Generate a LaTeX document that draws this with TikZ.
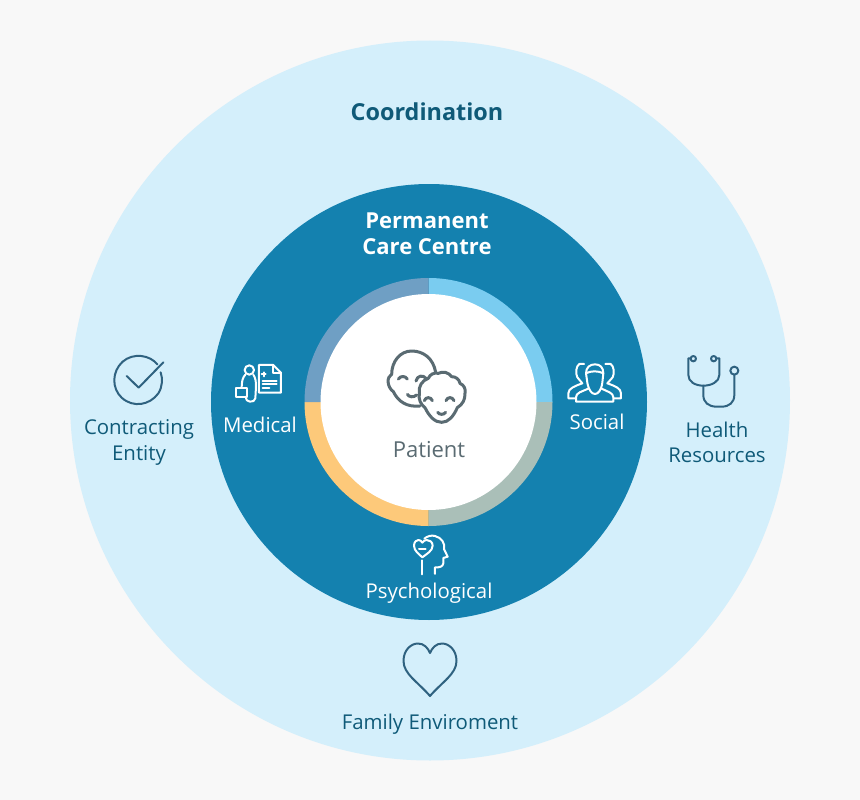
\documentclass[tikz,border=0pt]{standalone}
\usepackage{fontspec}
\setmainfont{Open Sans}
\definecolor{bg}{HTML}{F8F8F8}
\definecolor{outerc}{HTML}{D4EFFB}
\definecolor{darkc}{HTML}{1481AF}
\definecolor{ringa}{HTML}{6F9FC4}
\definecolor{ringb}{HTML}{7ACCF0}
\definecolor{ringc}{HTML}{AABFB8}
\definecolor{ringd}{HTML}{FDC97A}
\definecolor{titlec}{HTML}{0F5A78}
\definecolor{iconc}{HTML}{2F6280}
\definecolor{grayc}{HTML}{5A6B72}
\tikzset{
  lab/.style={inner sep=0pt,font=\fontsize{#1}{#1}\selectfont},
  lab/.default=20.4,
  whitelab/.style={lab,text=white},
  bluelab/.style={lab,text=titlec},
  iconbase/.style={line width=2pt,line cap=round,line join=round,fill=none},
  wicon/.style={iconbase,draw=white},
  bicon/.style={iconbase,draw=iconc},
  gicon/.style={iconbase,draw=grayc,line width=3pt},
  zoomed/.style={x=0.3333pt,y=-0.3333pt},
}
\begin{document}
\begin{tikzpicture}[x=1pt,y=-1pt]
\useasboundingbox (0,0) rectangle (860,800);
\fill[bg] (0,0) rectangle (860,800);
% circles
\fill[outerc] (430,400.5) circle [radius=360];
\fill[darkc] (429,402) circle [radius=218];
\coordinate (rc) at (428.5,402);
\fill[ringb] (rc) -- (428.5,278) arc [start angle=-90,end angle=0,radius=124] -- cycle;
\fill[ringc] (rc) -- (552.5,402) arc [start angle=0,end angle=90,radius=124] -- cycle;
\fill[ringd] (rc) -- (428.5,526) arc [start angle=90,end angle=180,radius=124] -- cycle;
\fill[ringa] (rc) -- (304.5,402) arc [start angle=180,end angle=270,radius=124] -- cycle;
\fill[white] (rc) circle [radius=108];
% labels
\node[bluelab,font=\fontsize{23.4}{23.4}\selectfont\bfseries] (coord) at (427,112) {Coordination};
\node[whitelab,font=\fontsize{22}{22}\selectfont\bfseries] (perm1) at (427,221) {Permanent};
\node[whitelab,font=\fontsize{22}{22}\selectfont\bfseries] (perm2) at (427,247) {Care Centre};
\node[whitelab] (medical) at (260,425) {Medical};
\node[whitelab] (social) at (597,422) {Social};
\node[whitelab] (psych) at (429,593) {Psychological};
\node[lab=22,text=grayc] (patient) at (429,450) {Patient};
\node[bluelab] (contr1) at (139,429) {Contracting};
\node[bluelab] (contr2) at (139,455) {Entity};
\node[bluelab] (health1) at (717,430) {Health};
\node[bluelab] (health2) at (717,455) {Resources};
\node[bluelab] (family) at (430,724) {Family Enviroment};
% check icon
\begin{scope}[shift={(100,345)},zoomed]
\draw[bicon] (172,58) .. controls (150,30) and (100,22) .. (68,50) .. controls (35,80) and (35,130) .. (65,158) .. controls (100,190) and (150,180) .. (175,145) .. controls (188,125) and (188,100) .. (182,82);
\draw[bicon] (80,93) -- (116,128) -- (190,52);
\end{scope}
% stethoscope
\begin{scope}[shift={(670,345)},zoomed]
\draw[bicon] (62,40) -- (55,40) -- (55,90) .. controls (55,110) and (75,122) .. (100,122) .. controls (125,122) and (148,110) .. (148,90) -- (148,40) -- (140,40);
\draw[bicon] (70,41) circle [radius=8];
\draw[bicon] (131,41) circle [radius=8];
\draw[bicon] (100,122) -- (100,150) .. controls (100,172) and (115,185) .. (140,185) -- (155,185) .. controls (178,185) and (193,172) .. (193,150) -- (193,89);
\draw[bicon] (193,77) circle [radius=12];
\end{scope}
% heart
\draw[bicon] (430,696) .. controls (418,682) and (403.5,674) .. (403.5,661) .. controls (403.5,650) and (411,643.5) .. (418,643.5) .. controls (424,643.5) and (428,648) .. (430,653) .. controls (432,648) and (436,643.5) .. (442,643.5) .. controls (449,643.5) and (456.5,650) .. (456.5,661) .. controls (456.5,674) and (442,682) .. (430,696) -- cycle;
% medical
\begin{scope}[shift={(210,340)},zoomed]
\draw[wicon] (118,90) circle [radius=14];
\draw[wicon] (106,104) .. controls (98,112) and (95,125) .. (95,143);
\draw[wicon] (78,143) rectangle (112,170);
\draw[wicon] (130,104) .. controls (137,115) and (138,125) .. (138,140) -- (136,175) .. controls (135,183) and (128,185) .. (120,185) .. controls (112,185) and (108,180) .. (108,170);
\draw[wicon] (147,158) -- (147,75) -- (190,75) -- (213,98) -- (213,158) -- cycle;
\draw[wicon] (190,75) -- (190,98) -- (213,98);
\draw[wicon] (155,103) -- (167,103) (161,97) -- (161,109);
\draw[wicon] (158,122) -- (200,122) (158,133) -- (200,133) (158,145) -- (178,145);
\end{scope}
% social
\begin{scope}[shift={(550,340)},zoomed]
\draw[wicon] (108,100) .. controls (108,82) and (120,73) .. (135,73) .. controls (150,73) and (160,82) .. (160,100) .. controls (145,92) and (122,92) .. (108,100) -- (112,128) .. controls (116,150) and (125,162) .. (135,162) .. controls (145,162) and (154,150) .. (157,128) -- (160,100);
\draw[wicon] (115,146) .. controls (95,155) and (78,158) .. (78,172) -- (78,185) -- (190,185) -- (190,172) .. controls (190,158) and (172,155) .. (155,146);
\draw[wicon] (102,72) -- (88,72) .. controls (78,78) and (76,100) .. (82,112) -- (97,130) .. controls (75,138) and (55,145) .. (55,160) -- (55,175) -- (76,175);
\draw[wicon] (166,72) -- (182,72) .. controls (192,78) and (194,100) .. (188,112) -- (172,130) .. controls (195,138) and (213,145) .. (213,160) -- (213,175) -- (192,175);
\end{scope}
% psychological
\begin{scope}[shift={(390,525)},zoomed]
\draw[wicon] (97,97) .. controls (88,88) and (72,78) .. (72,62) .. controls (72,50) and (80,45) .. (85,45) .. controls (90,45) and (95,48) .. (97,53) .. controls (100,48) and (105,45) .. (110,45) .. controls (118,45) and (128,50) .. (128,62) .. controls (128,78) and (108,88) .. (97,97) -- cycle;
\draw[wicon] (87,72) -- (107,72);
\draw[wicon] (103,41) .. controls (112,33) and (125,30) .. (135,33) .. controls (155,38) and (166,55) .. (162,72) -- (173,95) -- (160,99) -- (160,115) .. controls (158,125) and (150,128) .. (135,127) -- (135,147);
\draw[wicon] (95,106) -- (95,148);
\end{scope}
% faces
\begin{scope}[shift={(370,335)},zoomed]
\draw[gicon] (197,112) .. controls (190,70) and (160,48) .. (125,48) .. controls (90,48) and (65,80) .. (65,118) .. controls (50,125) and (50,155) .. (70,170) .. controls (85,200) and (110,217) .. (150,213);
\draw[gicon] (85,132) .. controls (92,122) and (105,122) .. (112,132);
\draw[gicon] (138,138) .. controls (142,120) and (160,120) .. (168,130);
\draw[gicon] (112,178) .. controls (118,187) and (130,188) .. (140,180);
\draw[gicon] (148,175) to[bend left=40] (175,130) to[bend left=40] (205,115) to[bend left=40] (245,125) to[bend left=40] (270,145) to[bend left=40] (285,175) to[bend left=30] (262,218) .. controls (250,245) and (235,262) .. (215,262) .. controls (195,262) and (178,245) .. (165,218) to[bend left=30] (148,175);
\draw[gicon] (163,197) .. controls (167,185) and (183,185) .. (187,197);
\draw[gicon] (228,197) .. controls (232,185) and (248,185) .. (252,197);
\draw[gicon] (203,232) .. controls (208,240) and (222,240) .. (227,232);
\end{scope}
\end{tikzpicture}
\end{document}
